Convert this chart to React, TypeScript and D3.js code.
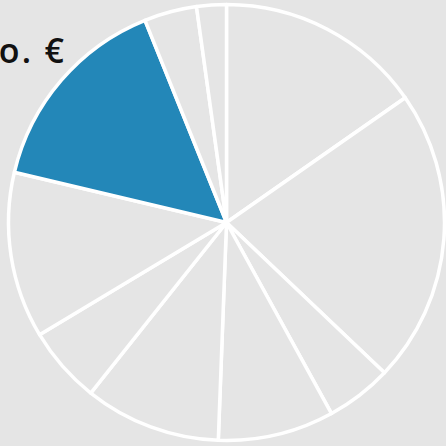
import React, { useEffect, useRef } from "react";
import * as d3 from "d3";

// slice shares, clockwise from 12 o'clock
const categories = ["A", "B", "C", "D", "E", "F", "G", "H", "I", "J"];
const values = [15.3, 21.8, 4.9, 8.6, 10.1, 5.7, 12.3, 15.2, 3.9, 2.2];
const highlighted = "H";
const unitLabel = "Mio. €";

function App() {
  const svgRef = useRef<SVGSVGElement>(null);

  useEffect(() => {
    const width = 446;
    const height = 446;
    const cx = 226.5;
    const cy = 222.5;
    const radius = 218;

    const svg = d3.select(svgRef.current);
    svg.selectAll("*").remove();

    svg.append("rect").attr("width", width).attr("height", height).attr("fill", "#e5e5e5");

    const data = categories.map((c, i) => ({ name: c, value: values[i] }));
    const pie = d3
      .pie<{ name: string; value: number }>()
      .sort(null)
      .value((d) => d.value);
    const arc = d3
      .arc<d3.PieArcDatum<{ name: string; value: number }>>()
      .innerRadius(0)
      .outerRadius(radius);

    svg
      .append("g")
      .attr("transform", `translate(${cx},${cy})`)
      .selectAll("path")
      .data(pie(data))
      .join("path")
      .attr("d", arc)
      .attr("fill", (d) => (d.data.name === highlighted ? "#2387b8" : "#e5e5e5"))
      .attr("stroke", "#fff")
      .attr("stroke-width", 3.5)
      .attr("stroke-linejoin", "round");

    // unit label, partly cropped at the left edge like the source
    svg
      .append("text")
      .attr("x", 66.3)
      .attr("y", 62.5)
      .attr("text-anchor", "end")
      .style("font-family", "'Open Sans', sans-serif")
      .style("font-weight", 600)
      .style("font-size", "34px")
      .style("letter-spacing", "2.3px")
      .attr("fill", "#111")
      .text(unitLabel);
  }, []);

  return (
    <div style={{ position: "fixed", left: 0, top: 0 }}>
      <svg ref={svgRef} width={446} height={446} style={{ display: "block" }} />
    </div>
  );
}

export default App;
